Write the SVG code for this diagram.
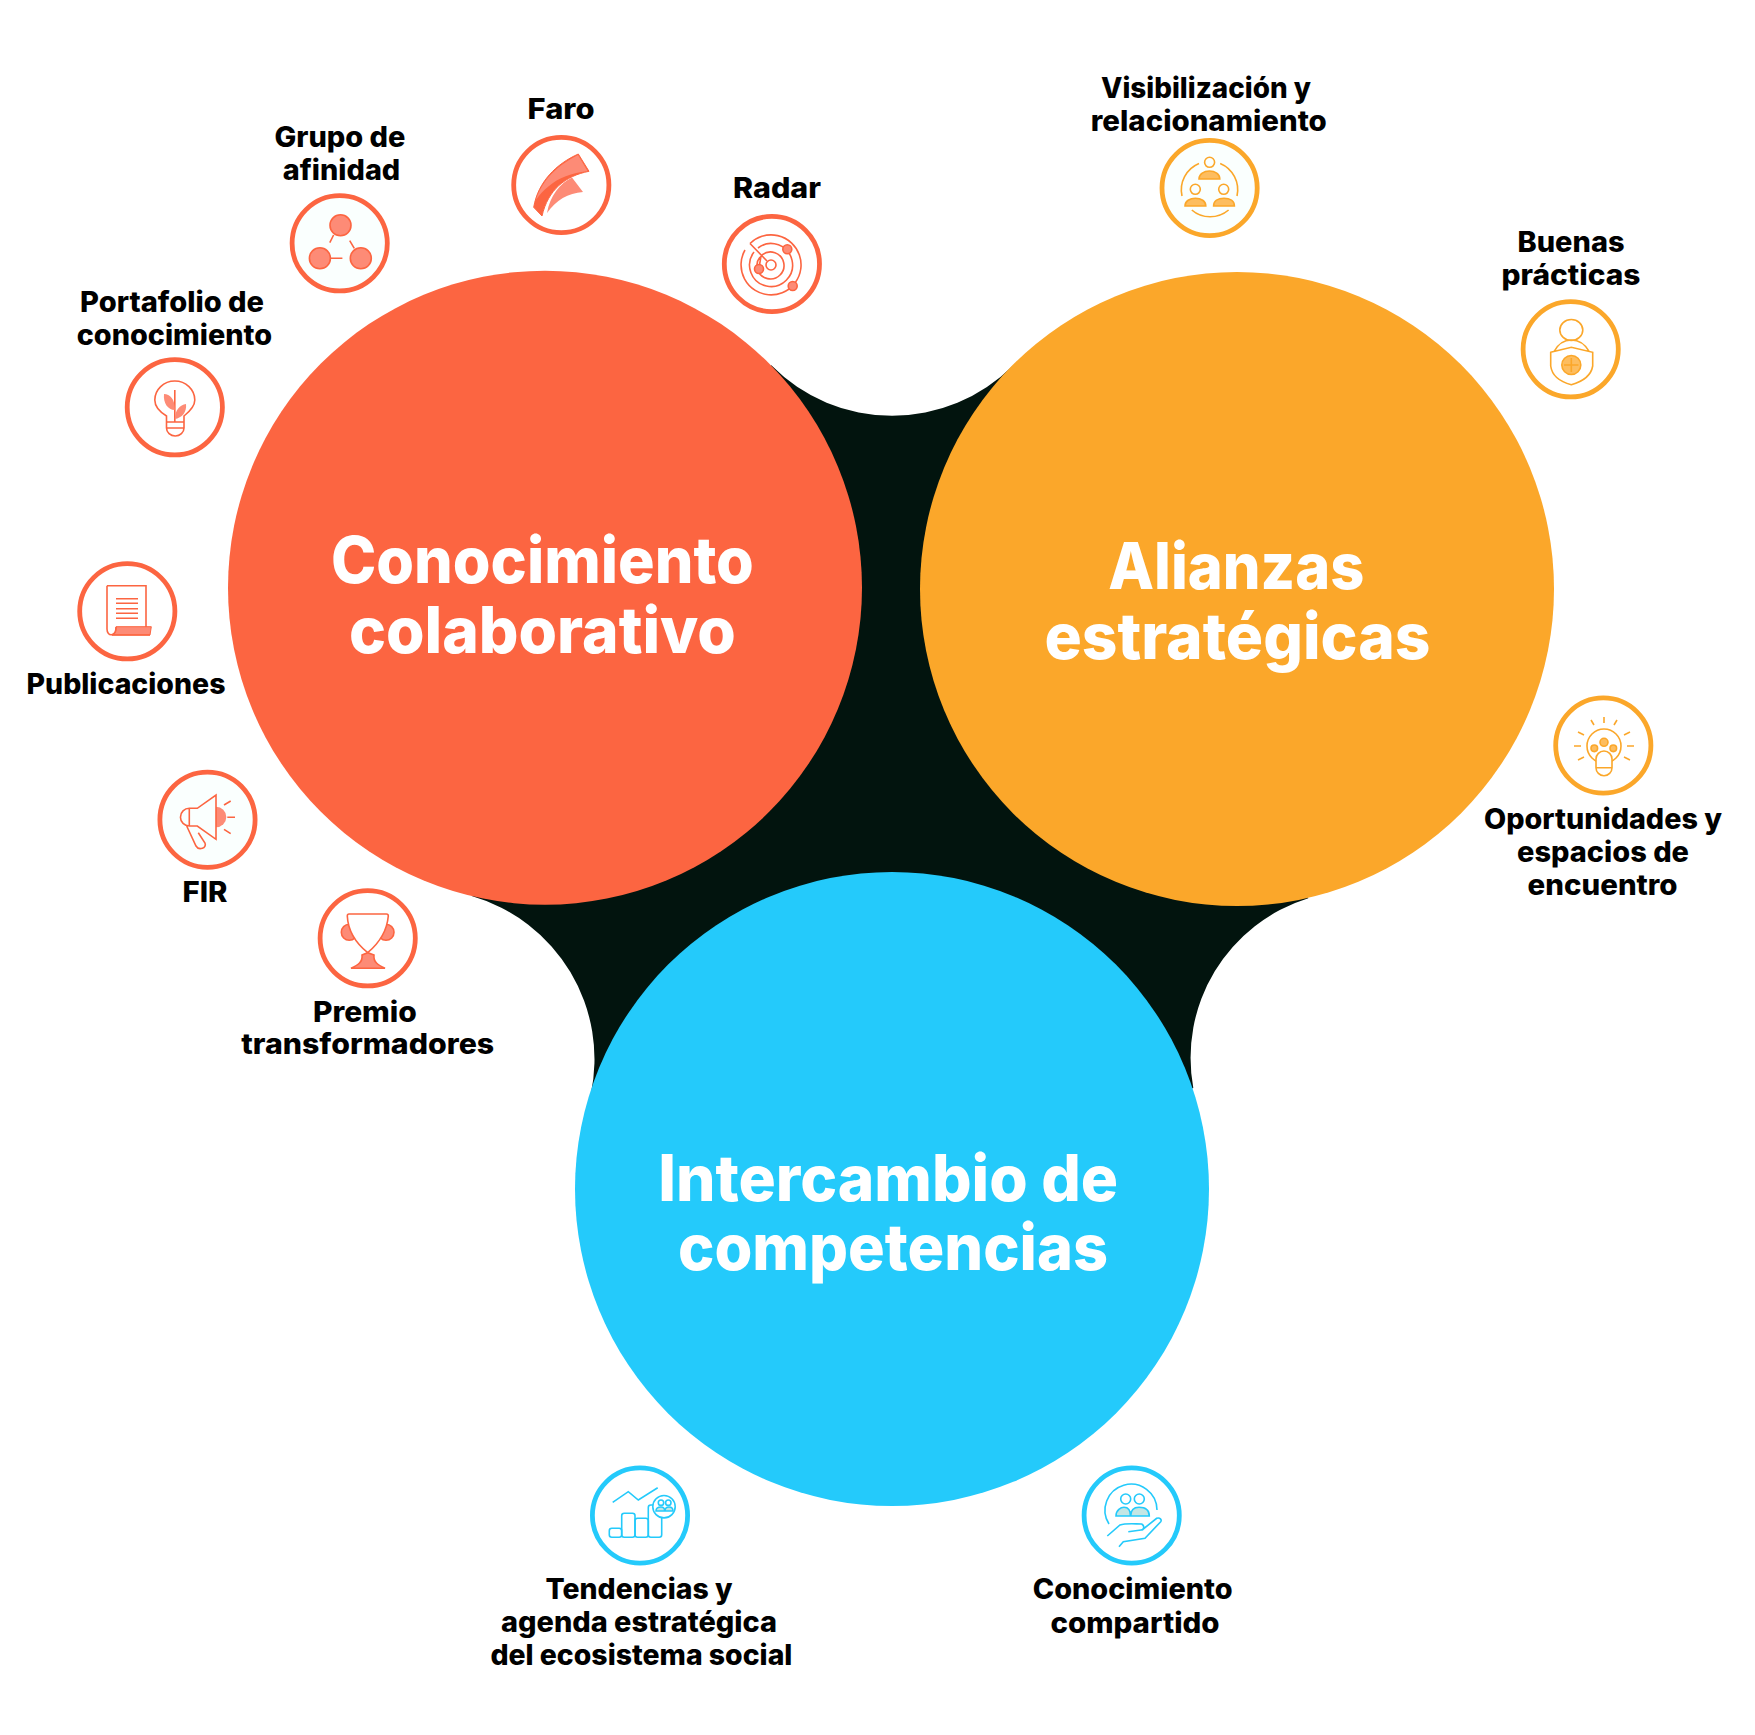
<svg xmlns="http://www.w3.org/2000/svg" width="1755" height="1735" viewBox="0 0 1755 1735">
<style>
text{font-family:"Inter","Liberation Sans",sans-serif;text-anchor:middle}
.l{font-size:28px;font-weight:800;fill:#000}
.m{font-size:64px;font-weight:800;fill:#fff}
.ring{stroke-width:4.8;fill:#fff}
.tint{fill:#fafffe}
.o{stroke:#fc6541;fill:none;stroke-width:1.6}
.a{stroke:#fba72a;fill:none;stroke-width:1.6}
.b{stroke:#24cafb;fill:none;stroke-width:1.6}
.of{fill:#fd8b76}
.af{fill:#fdbd5f}
.bf{fill:#c3e6e4}
.bw{fill:#fff}
</style>
<rect width="1755" height="1735" fill="#fff"/>
<g id="connectors">
<path d="M771.3 365.3A170 170 0 0 0 1012.8 365.7L1237 589L1308.3 898.3A167 167 0 0 0 1193.3 1088L892 1189L590.7 1095A170 170 0 0 0 471.7 896L545 588Z" fill="#02140e"/>
</g>
<g id="hub-conocimiento"><circle cx="545" cy="587.7" r="317" fill="#fc6541"/>
<text class="m" x="542.4" y="583" textLength="423" lengthAdjust="spacingAndGlyphs">Conocimiento</text>
<text class="m" x="542.4" y="653" textLength="387" lengthAdjust="spacingAndGlyphs">colaborativo</text></g>
<g id="hub-alianzas"><circle cx="1237" cy="589" r="317" fill="#fba72a"/>
<text class="m" x="1236.3" y="589" textLength="256" lengthAdjust="spacingAndGlyphs">Alianzas</text>
<text class="m" x="1237.4" y="658.5" textLength="386" lengthAdjust="spacingAndGlyphs">estratégicas</text></g>
<g id="hub-intercambio"><circle cx="892" cy="1189" r="317" fill="#24cafb"/>
<text class="m" x="888.2" y="1200.5" textLength="460" lengthAdjust="spacingAndGlyphs">Intercambio de</text>
<text class="m" x="893" y="1270" textLength="430" lengthAdjust="spacingAndGlyphs">competencias</text></g>

<g id="grupo">
<circle class="ring tint" cx="339.7" cy="243.3" r="47.6" stroke="#fc6541"/>
<g class="o"><circle class="of" cx="340.5" cy="225.3" r="10.5"/><circle class="of" cx="319.9" cy="258.3" r="10.5"/><circle class="of" cx="360.8" cy="258.3" r="10.5"/>
<path d="M333.6 235L329.8 242.7M349.7 240.7L354.3 248.3M331 258.3H342.4"/></g>
<text class="l" x="340" y="146.5" textLength="131" lengthAdjust="spacingAndGlyphs">Grupo de</text>
<text class="l" x="341.5" y="180" textLength="117.5" lengthAdjust="spacingAndGlyphs">afinidad</text>
</g>
<g id="faro">
<circle class="ring" cx="561.3" cy="185" r="47.6" stroke="#fc6541"/>
<path d="M533.7 207.3C538 182 556 164 578.3 154L589 171.3C565 176 548 190 542 216Z" fill="#fc6541" stroke="#fc6541" stroke-width="1"/>
<path class="of" d="M536 200C542 180 558 165 578 155L587.5 171C572 173 558 178 549 186C543 191 539 195 536 200Z"/>
<path class="of" d="M572 177.5L583 192C568 193 556 200 547 213C550 196 560 183 572 177.5Z"/>
<text class="l" x="561" y="119" textLength="67" lengthAdjust="spacingAndGlyphs">Faro</text>
</g>
<g id="radar">
<circle class="ring" cx="771.9" cy="264" r="47.6" stroke="#fc6541"/>
<g class="o"><circle cx="771" cy="265" r="5"/>
<path d="M750 243.5A30 30 0 1 1 745 250M758 248A21.5 21.5 0 1 1 754 252M762 255A13.5 13.5 0 1 1 760 257M750 243.5L767 261M761 256L759 268"/>
<circle class="of" cx="787.3" cy="249.3" r="4.5"/><circle class="of" cx="759" cy="269" r="4.5"/><circle class="of" cx="792.7" cy="286" r="4.5"/></g>
<text class="l" x="777" y="197.7" textLength="88" lengthAdjust="spacingAndGlyphs">Radar</text>
</g>
<g id="portafolio">
<circle class="ring" cx="174.8" cy="407.3" r="47.6" stroke="#fc6541"/>
<g class="o"><path d="M166.5 422V416C160 412 154.8 406 154.8 400A20 19 0 0 1 194.8 400C194.8 406 189 412 184 416V422ZM166.5 422H184V428A8.7 8 0 0 1 166.5 428ZM166.5 428H184M174.8 390V422"/>
<path class="of" stroke="none" d="M174.8 410C168 410 163 403 164 394C170 394 175 399 174.8 410ZM174.8 419C175 410 180 405 186 404C187 412 182 418 174.8 419Z"/></g>
<text class="l" x="172" y="311.7" textLength="184" lengthAdjust="spacingAndGlyphs">Portafolio de</text>
<text class="l" x="174.4" y="345" textLength="195.5" lengthAdjust="spacingAndGlyphs">conocimiento</text>
</g>
<g id="publicaciones">
<circle class="ring" cx="127.3" cy="611.3" r="47.6" stroke="#fc6541"/>
<g class="o"><path class="of" stroke-width="1" d="M116 626.7H151.3L150 635H112C116 633 116 630 116 626.7Z"/>
<path d="M107 585.7H146V627M107 585.7V629C107 637 116 637 116 627M116 598.7H138M116 603.3H138M116 608.7H138M116 613.3H138M116 618.3H138M112 635H150"/></g>
<text class="l" x="126" y="694" textLength="199" lengthAdjust="spacingAndGlyphs">Publicaciones</text>
</g>
<g id="fir">
<circle class="ring tint" cx="207.5" cy="819.7" r="47.6" stroke="#fc6541"/>
<g class="o"><path class="of" stroke="none" d="M216 806.7A10 10 0 0 1 216 827.3Z"/>
<path d="M216 795V839.3L197.3 826H189.3A8.8 8.8 0 0 1 189.3 808.3H197.3ZM189.3 808.3V826M186.7 826L196 846C199 851 207 848 205 843L198.3 832.7M224 805L230.7 801M227.3 817.3H235M224 829.3L230.7 833.7"/></g>
<text class="l" x="205" y="901.7" textLength="45" lengthAdjust="spacingAndGlyphs">FIR</text>
</g>
<g id="premio">
<circle class="ring" cx="367.7" cy="938.3" r="47.6" stroke="#fc6541"/>
<g class="o"><circle class="of" cx="349.3" cy="932.3" r="8"/><circle class="of" cx="386" cy="932.3" r="8"/>
<path class="bw" d="M349 914H386.5Q388.3 914 388.3 916C387 931 378 944 367.7 952.7C357 944 348 931 347.3 916Q347.3 914 349 914Z"/>
<path class="of" d="M362 955C363 962 358 965 351 968.3H385C378 965 373 962 374 955L367.7 952.7Z"/></g>
<text class="l" x="364.9" y="1022" textLength="104" lengthAdjust="spacingAndGlyphs">Premio</text>
<text class="l" x="367.7" y="1054.4" textLength="253" lengthAdjust="spacingAndGlyphs">transformadores</text>
</g>
<g id="visibilizacion">
<circle class="ring tint" cx="1209.6" cy="188" r="47.6" stroke="#fba72a"/>
<g class="a"><circle cx="1209.6" cy="162.3" r="5"/><circle cx="1195.3" cy="189.3" r="5"/><circle cx="1223.7" cy="189.3" r="5"/>
<path class="af" d="M1199 179C1199 174 1204 171 1209.4 171C1215 171 1219.8 174 1219.8 179ZM1185 206C1185 201 1190 198.3 1195.4 198.3C1201 198.3 1205.8 201 1205.8 206ZM1213.6 206C1213.6 201 1218 198.3 1224 198.3C1230 198.3 1234.4 201 1234.4 206Z"/>
<path d="M1199 163.5A28.5 28.5 0 0 0 1182 196M1220.2 163.5A28.5 28.5 0 0 1 1237 196M1191.8 210C1202 219 1218 219 1228.6 210"/></g>
<text class="l" x="1206" y="97.5" textLength="210" lengthAdjust="spacingAndGlyphs">Visibilización y</text>
<text class="l" x="1208.8" y="131" textLength="236" lengthAdjust="spacingAndGlyphs">relacionamiento</text>
</g>
<g id="buenas">
<circle class="ring" cx="1570.7" cy="349.3" r="47.6" stroke="#fba72a"/>
<g class="a"><ellipse cx="1571.3" cy="330" rx="11.5" ry="10.5"/>
<path d="M1554 351.7C1558 344 1564 340 1571.3 340C1579 340 1585 344 1589.3 351.7M1550.7 352.3L1571.3 347.3L1592.7 352.3V366C1591 376 1581 382 1571.3 384.7C1561 382 1552 376 1550.7 366Z"/>
<circle class="af" cx="1571.3" cy="365" r="9.5"/><path d="M1571.3 358V372M1564 365H1578.5"/></g>
<text class="l" x="1571" y="252" textLength="107" lengthAdjust="spacingAndGlyphs">Buenas</text>
<text class="l" x="1571" y="284.5" textLength="139" lengthAdjust="spacingAndGlyphs">prácticas</text>
</g>
<g id="oportunidades">
<circle class="ring" cx="1603.3" cy="745.5" r="47.6" stroke="#fba72a"/>
<g class="a"><circle cx="1604" cy="746" r="17"/>
<rect class="bw" x="1596" y="751" width="16" height="24.7" rx="8"/>
<path d="M1596 767.7H1612M1604 717V723M1591 720L1594 725M1617 720L1614 725M1578 732L1584 735M1630 732L1624 735M1574 746H1581M1627 746H1634M1578 760L1584 757M1630 760L1624 757"/>
<circle class="af" cx="1604" cy="742.3" r="4"/><circle class="af" cx="1594.3" cy="748.3" r="3.3"/><circle class="af" cx="1613.3" cy="748.3" r="3.3"/></g>
<text class="l" x="1603" y="829.4" textLength="238" lengthAdjust="spacingAndGlyphs">Oportunidades y</text>
<text class="l" x="1603" y="862" textLength="172" lengthAdjust="spacingAndGlyphs">espacios de</text>
<text class="l" x="1602.6" y="894.5" textLength="150" lengthAdjust="spacingAndGlyphs">encuentro</text>
</g>
<g id="tendencias">
<circle class="ring" cx="640" cy="1515.5" r="47.6" stroke="#24cafb"/>
<g class="b"><path d="M612.7 1502.3L628.3 1491.7L638.3 1500L657.7 1487.7"/>
<rect x="609.3" y="1528.3" width="12.4" height="9" rx="2.5"/><rect x="621.7" y="1513.3" width="13.3" height="24" rx="2.5"/><rect x="635" y="1518.3" width="13.3" height="19" rx="2.5"/><rect x="648.3" y="1505" width="13.4" height="32.3" rx="2.5"/>
<circle class="bw" cx="664" cy="1506.7" r="11.2"/><circle cx="661" cy="1502.7" r="2.7"/><circle cx="668.3" cy="1502.7" r="2.7"/>
<path class="bf" d="M656 1511C656 1507 660 1507 661 1507C663 1507 664.7 1508 664.7 1511ZM665 1511C665 1508 667 1507 669 1507C671 1507 673 1508 673 1511Z"/></g>
<text class="l" x="639" y="1599" textLength="187" lengthAdjust="spacingAndGlyphs">Tendencias y</text>
<text class="l" x="639" y="1632" textLength="276" lengthAdjust="spacingAndGlyphs">agenda estratégica</text>
<text class="l" x="641.4" y="1665" textLength="302" lengthAdjust="spacingAndGlyphs">del ecosistema social</text>
</g>
<g id="compartido">
<circle class="ring" cx="1131.7" cy="1515.5" r="47.6" stroke="#24cafb"/>
<g class="b"><path d="M1109 1524A26 26 0 1 1 1157 1510"/><circle cx="1125.7" cy="1499" r="5"/><circle cx="1139.3" cy="1499" r="5"/>
<path class="bf" d="M1116 1516C1116 1510 1121 1507.3 1124 1507.3C1128 1507.3 1130.5 1510 1130.5 1516ZM1130.7 1516C1130.7 1510 1134 1507.3 1139 1507.3C1145 1507.3 1149.3 1510 1149.3 1516Z"/>
<path d="M1107.3 1536L1120 1525C1126 1523 1135 1524 1141.7 1524C1145 1526 1144 1530 1141 1530L1128.3 1531.7M1142 1530L1156.7 1518.3C1160 1517 1162 1520 1160.7 1521.7L1145 1538.3L1123.3 1541.7L1119 1546.7"/></g>
<text class="l" x="1132.7" y="1599" textLength="200" lengthAdjust="spacingAndGlyphs">Conocimiento</text>
<text class="l" x="1135" y="1633" textLength="169" lengthAdjust="spacingAndGlyphs">compartido</text>
</g>
</svg>
